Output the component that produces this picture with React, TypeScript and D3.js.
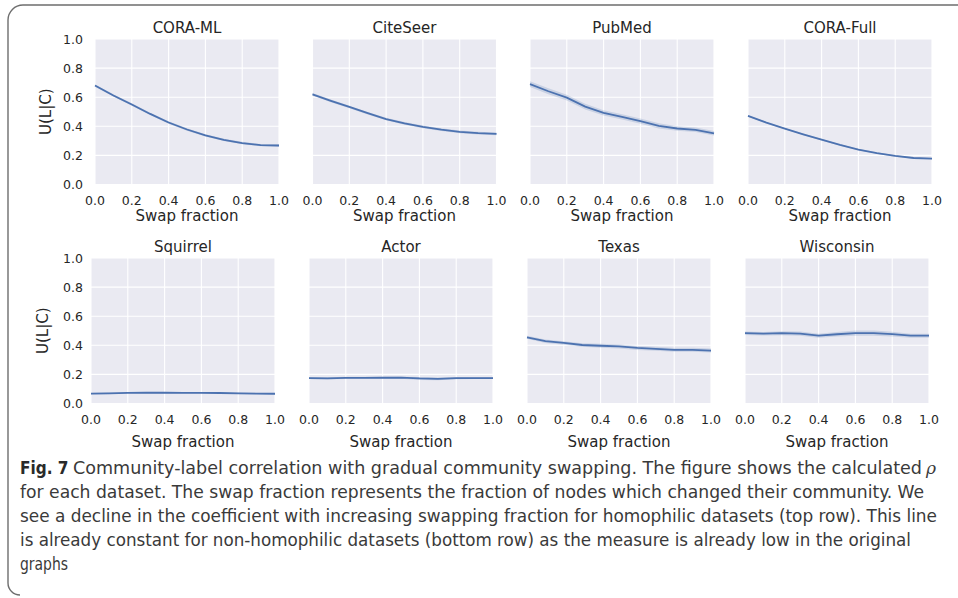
import React from "react";
import * as d3 from "d3";

const swapFractions = [0, 0.1, 0.2, 0.3, 0.4, 0.5, 0.6, 0.7, 0.8, 0.9, 1.0];
const tickValues = [0, 0.2, 0.4, 0.6, 0.8, 1.0];
const tickLabels = ["0.0", "0.2", "0.4", "0.6", "0.8", "1.0"];

const topNames = ["CORA-ML", "CiteSeer", "PubMed", "CORA-Full"];
const bottomNames = ["Squirrel", "Actor", "Texas", "Wisconsin"];

const coraML = [0.68, 0.612, 0.55, 0.485, 0.426, 0.378, 0.338, 0.307, 0.285, 0.271, 0.268];
const citeSeer = [0.62, 0.575, 0.533, 0.49, 0.45, 0.42, 0.396, 0.377, 0.362, 0.353, 0.348];
const pubMed = [0.69, 0.641, 0.597, 0.535, 0.493, 0.465, 0.435, 0.403, 0.385, 0.376, 0.352];
const coraFull = [0.471, 0.425, 0.384, 0.345, 0.308, 0.272, 0.24, 0.216, 0.196, 0.182, 0.178];
const squirrel = [0.068, 0.07, 0.073, 0.074, 0.074, 0.073, 0.073, 0.072, 0.07, 0.068, 0.067];
const actor = [0.175, 0.173, 0.176, 0.176, 0.177, 0.178, 0.172, 0.169, 0.174, 0.175, 0.175];
const texas = [0.455, 0.428, 0.416, 0.402, 0.397, 0.392, 0.382, 0.376, 0.369, 0.369, 0.364];
const wisconsin = [0.483, 0.48, 0.483, 0.48, 0.466, 0.476, 0.483, 0.483, 0.477, 0.466, 0.466];

const coraMLci = [0.008, 0.008, 0.008, 0.008, 0.008, 0.008, 0.008, 0.008, 0.008, 0.008, 0.008];
const citeSeerCi = [0.009, 0.009, 0.009, 0.009, 0.009, 0.009, 0.009, 0.009, 0.009, 0.009, 0.009];
const pubMedCi = [0.02, 0.02, 0.02, 0.02, 0.018, 0.018, 0.018, 0.018, 0.016, 0.016, 0.016];
const coraFullCi = [0.005, 0.005, 0.005, 0.005, 0.005, 0.005, 0.005, 0.005, 0.005, 0.005, 0.005];
const squirrelCi = [0.005, 0.005, 0.005, 0.005, 0.005, 0.005, 0.005, 0.005, 0.005, 0.005, 0.005];
const actorCi = [0.007, 0.007, 0.007, 0.007, 0.007, 0.008, 0.01, 0.01, 0.007, 0.007, 0.007];
const texasCi = [0.01, 0.012, 0.012, 0.012, 0.014, 0.014, 0.014, 0.014, 0.014, 0.014, 0.014];
const wisconsinCi = [0.012, 0.012, 0.014, 0.014, 0.014, 0.016, 0.018, 0.018, 0.016, 0.014, 0.014];

const topSeries = [coraML, citeSeer, pubMed, coraFull];
const topCi = [coraMLci, citeSeerCi, pubMedCi, coraFullCi];
const bottomSeries = [squirrel, actor, texas, wisconsin];
const bottomCi = [squirrelCi, actorCi, texasCi, wisconsinCi];

const captionLines = [
  "Community-label correlation with gradual community swapping. The figure shows the calculated ",
  "for each dataset. The swap fraction represents the fraction of nodes which changed their community. We",
  "see a decline in the coefficient with increasing swapping fraction for homophilic datasets (top row). This line",
  "is already constant for non-homophilic datasets (bottom row) as the measure is already low in the original",
  "graphs",
];

const LINE = "#4C72B0";
const BG = "#EAEAF2";
const TXT = "#262626";
const FONT = "'DejaVu Sans', sans-serif";

type PanelProps = {
  x0: number; top: number; bottom: number; w: number;
  title: string; values: number[]; ci: number[];
  showY: boolean; tickY: number; labelY: number; titleY: number; yLabelX: number;
};

function Panel(p: PanelProps) {
  const x = d3.scaleLinear().domain([0, 1]).range([p.x0, p.x0 + p.w]);
  const y = d3.scaleLinear().domain([0, 1]).range([p.bottom, p.top]);
  const pts = swapFractions.map((f, i) => ({ f, v: p.values[i], c: p.ci[i] }));
  const line = d3.line<any>().x((d) => x(d.f)).y((d) => y(d.v));
  const area = d3.area<any>().x((d) => x(d.f)).y0((d) => y(d.v - d.c)).y1((d) => y(d.v + d.c));
  const cx = p.x0 + p.w / 2;
  return (
    <g>
      <rect x={p.x0} y={p.top} width={p.w} height={p.bottom - p.top} fill={BG} />
      {tickValues.map((t, i) => (
        <g key={i}>
          <line x1={x(t)} x2={x(t)} y1={p.top} y2={p.bottom} stroke="#fff" strokeWidth={1.1} />
          <line x1={p.x0} x2={p.x0 + p.w} y1={y(t)} y2={y(t)} stroke="#fff" strokeWidth={1.1} />
        </g>
      ))}
      <path d={area(pts) || ""} fill={LINE} fillOpacity={0.2} />
      <path d={line(pts) || ""} fill="none" stroke={LINE} strokeWidth={1.8} />
      {tickValues.map((t, i) => (
        <text key={"xt" + i} x={x(t)} y={p.tickY} textAnchor="middle" fontSize={12.5} fill={TXT} fontFamily={FONT}>
          {tickLabels[i]}
        </text>
      ))}
      {p.showY &&
        tickValues.map((t, i) => (
          <text key={"yt" + i} x={83} y={y(t) + 4.5} textAnchor="end" fontSize={12.5} fill={TXT} fontFamily={FONT}>
            {tickLabels[i]}
          </text>
        ))}
      {p.showY && (
        <text
          transform={`translate(${p.yLabelX},${(p.top + p.bottom) / 2}) rotate(-90)`}
          textAnchor="middle" fontSize={15} fill={TXT} fontFamily={FONT}
        >
          U(L|C)
        </text>
      )}
      <text x={cx} y={p.labelY} textAnchor="middle" fontSize={15} fill={TXT} fontFamily={FONT}>
        Swap fraction
      </text>
      <text x={cx} y={p.titleY} textAnchor="middle" fontSize={15} fill={TXT} fontFamily={FONT}>
        {p.title}
      </text>
    </g>
  );
}

export default function App() {
  const topX = [95, 312.5, 530, 748];
  const botX = [91, 309, 527, 745];
  const W = 184;
  const capFont = "'Liberation Sans Narrow', 'DejaVu Sans Condensed', 'Open Sans', sans-serif";
  const capBase = [474, 498, 522, 546, 570];
  const capEnds = [922, 924, 937, 911, 68];
  return (
    <svg width={958} height={598} style={{ position: "absolute", left: 0, top: 0, background: "#fff" }}>
      <path d="M958,5 H23 A15,15 0 0 0 8,20 V583 A12,12 0 0 0 20,595" fill="none" stroke="#6e6e6e" strokeWidth={1.4} />
      {topNames.map((n, i) => (
        <Panel key={n} x0={topX[i]} top={39} bottom={184.5} w={W} title={n} values={topSeries[i]} ci={topCi[i]}
          showY={i === 0} tickY={205} labelY={221} titleY={33} yLabelX={51} />
      ))}
      {bottomNames.map((n, i) => (
        <Panel key={n} x0={botX[i]} top={258} bottom={403.5} w={W} title={n} values={bottomSeries[i]} ci={bottomCi[i]}
          showY={i === 0} tickY={424} labelY={447} titleY={252} yLabelX={48} />
      ))}
      <text x={20} y={capBase[0]} fontSize={17} fill="#3a3a3a" fontFamily={capFont}>
        <tspan fontWeight="bold" fill="#2a2a2a">Fig. 7</tspan>
      </text>
      <text x={73} y={capBase[0]} fontSize={17} fill="#3a3a3a" fontFamily={capFont}
        textLength={capEnds[0] - 73} lengthAdjust="spacingAndGlyphs">
        {captionLines[0]}
      </text>
      <text x={926} y={capBase[0]} fontSize={17} fill="#3a3a3a" fontStyle="italic" fontFamily="'DejaVu Serif', serif">
        ρ
      </text>
      {captionLines.slice(1).map((l, i) => (
        <text key={i} x={20} y={capBase[i + 1]} fontSize={17} fill="#3a3a3a" fontFamily={capFont}
          textLength={capEnds[i + 1] - 20} lengthAdjust="spacingAndGlyphs">
          {l}
        </text>
      ))}
    </svg>
  );
}
